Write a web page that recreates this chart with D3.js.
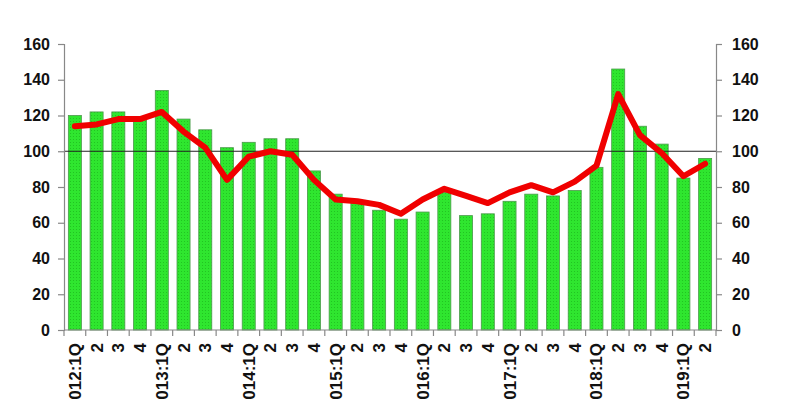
<!DOCTYPE html>
<html><head><meta charset="utf-8">
<script src="https://cdn.jsdelivr.net/npm/d3@7"></script>
<style>body{margin:0;background:#fff}svg{display:block}</style>
</head><body>
<svg id="c" width="800" height="400"></svg>
<script>
const categories = ["2012:1Q","2","3","4","2013:1Q","2","3","4","2014:1Q","2","3","4","2015:1Q","2","3","4","2016:1Q","2","3","4","2017:1Q","2","3","4","2018:1Q","2","3","4","2019:1Q","2"];
const barValues = [120,122,122,118,134,118,112,102,105,107,107,89,76,71,67,62,66,77,64,65,72,76,75,78,91,146,114,104,85,96];
const lineValues = [114,115,118,118,122,111,102,84,97,100,98,84,73,72,70,65,73,79,75,71,77,81,77,83,92,132,109,99,86,93];
const yTicks = [0,20,40,60,80,100,120,140,160];
const refValue = 100;

const svg = d3.select("#c");
const L = 64, R = 716, T = 44, B = 330;
const x = d3.scaleBand().domain(d3.range(categories.length)).range([L, R]).paddingInner(0.4).paddingOuter(0.2);
const y = d3.scaleLinear().domain([0, 160]).range([B, T]);

const defs = svg.append("defs");
const pat = defs.append("pattern").attr("id","dots").attr("width",3).attr("height",3).attr("patternUnits","userSpaceOnUse");
pat.append("rect").attr("width",3).attr("height",3).attr("fill","#2fe62f");
pat.append("rect").attr("x",1).attr("y",1).attr("width",1).attr("height",1).attr("fill","#22c422");

// bars
svg.append("g").selectAll("rect").data(barValues).join("rect")
  .attr("x", (d,i) => x(i)).attr("width", x.bandwidth())
  .attr("y", d => y(d)).attr("height", d => B - y(d))
  .attr("fill", "url(#dots)").attr("stroke", "#4c9a4c").attr("stroke-width", 0.8);

// reference line at 100
svg.append("line").attr("x1", L).attr("x2", R).attr("y1", y(refValue)).attr("y2", y(refValue))
  .attr("stroke", "#222").attr("stroke-width", 1.2);

// red line
const line = d3.line().x((d,i) => x(i) + x.bandwidth()/2).y(d => y(d));
svg.append("path").datum(lineValues).attr("d", line)
  .attr("fill","none").attr("stroke","#f00000").attr("stroke-width",6).attr("stroke-linejoin","round").attr("stroke-linecap","round");

// axes
const font = "Arial, 'Liberation Sans', sans-serif";
const left = svg.append("g").attr("transform",`translate(${L},0)`).call(d3.axisLeft(y).tickValues(yTicks).tickSize(6).tickPadding(8));
const right = svg.append("g").attr("transform",`translate(${R},0)`).call(d3.axisRight(y).tickValues(yTicks).tickSize(6).tickPadding(10));
[left, right].forEach(g => {
  g.select(".domain").attr("stroke","#888").attr("stroke-width",1.2);
  g.selectAll(".tick line").attr("stroke","#888").attr("stroke-width",1.2);
  g.selectAll("text").attr("font-family",font).attr("font-size",16).attr("font-weight","bold").attr("fill","#111");
});

// x axis with ticks at band boundaries
const bounds = d3.range(categories.length + 1).map(i => L + i * (R - L) / categories.length);
const xg = svg.append("g");
xg.append("line").attr("x1", L).attr("x2", R).attr("y1", B).attr("y2", B).attr("stroke","#888").attr("stroke-width",1.2);
xg.selectAll(".xt").data(bounds).join("line").attr("class","xt")
  .attr("x1", d => d).attr("x2", d => d).attr("y1", B).attr("y2", B + 6)
  .attr("stroke","#888").attr("stroke-width",1.2);
xg.selectAll("text").data(categories).join("text")
  .attr("transform", (d,i) => `translate(${x(i) + x.bandwidth()/2 + 6},${B + 13}) rotate(-90)`)
  .attr("text-anchor","end")
  .attr("font-family",font).attr("font-size",17).attr("font-weight","bold").attr("fill","#111")
  .text(d => d);
</script>
</body></html>
